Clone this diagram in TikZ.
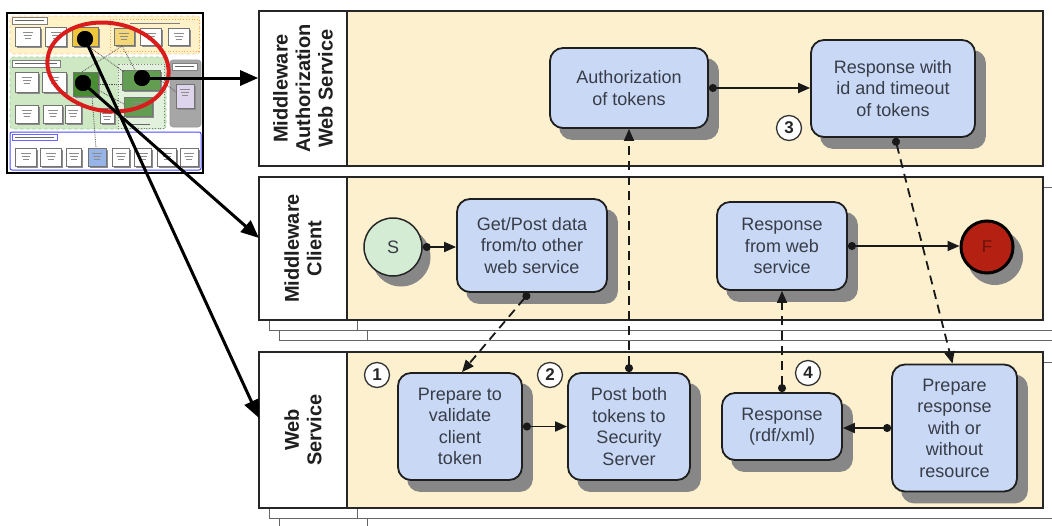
\documentclass[tikz,border=0pt]{standalone}
\usepackage{fontspec}
\setmainfont{Liberation Sans}
\usetikzlibrary{arrows.meta,calc}
\pgfdeclarelayer{bg}
\pgfdeclarelayer{sh}
\pgfsetlayers{bg,sh,main}
\definecolor{lanebg}{RGB}{253,240,206}
\definecolor{boxblue}{RGB}{201,217,245}
\definecolor{txt}{RGB}{55,60,72}
\definecolor{startg}{RGB}{212,235,212}
\definecolor{endr}{RGB}{180,32,18}
\definecolor{endtxt}{RGB}{105,18,8}
\definecolor{thyel}{RGB}{255,241,200}
\definecolor{thgold}{RGB}{238,198,60}
\definecolor{thgrn}{RGB}{206,232,196}
\definecolor{thdkg}{RGB}{72,140,52}
\definecolor{thblue}{RGB}{150,180,232}
\definecolor{thpur}{RGB}{222,212,236}
\definecolor{ellred}{RGB}{218,28,28}
\definecolor{shad}{RGB}{135,135,135}
\newcommand{\thumbbox}[5]{%
  \fill[black!45] ($(#1,#2)+(2,2)$) rectangle ($(#3,#4)+(2,2)$);
  \draw[draw=black!55, line width=0.5pt, fill=#5] (#1,#2) rectangle (#3,#4);
  \draw[black!45, line width=0.6pt] ($(#1,#2)!0.5!(#3,#2)+(-5,5)$) -- ++(10,0);
  \draw[black!45, line width=0.6pt] ($(#1,#2)!0.5!(#3,#2)+(-4,8)$) -- ++(8,0);
  \draw[black!45, line width=0.6pt] ($(#1,#2)!0.5!(#3,#2)+(-3,11)$) -- ++(6,0);}
\begin{document}
\begin{tikzpicture}[x=1pt,y=-1pt,
  lane/.style={draw=black!85, line width=1.6pt, fill=lanebg},
  lanecopy/.style={draw=black!60, line width=0.8pt, fill=white},
  labbox/.style={draw=black!85, line width=1.6pt, fill=white, inner sep=0pt},
  labtext/.style={rotate=90, align=center, font=\fontsize{20}{22.5}\selectfont\bfseries, text=black!88},
  task/.style={draw=black!88, line width=1.8pt, fill=boxblue, rounded corners=13pt, align=center,
    font=\fontsize{18}{21.5}\selectfont, text=txt, inner sep=2pt},
  num/.style={circle, draw=black!80, line width=1.3pt, fill=white, minimum size=25pt, inner sep=0pt,
    font=\fontsize{17}{17}\selectfont\bfseries, text=black!85},
  flow/.style={line width=1.8pt, draw=black!90, {Circle[length=8pt]}-{Triangle[length=12pt,width=10pt]}},
  msg/.style={flow, dash pattern=on 9pt off 6pt},
  big/.style={line width=3pt, draw=black, -{Triangle[length=18pt,width=15pt]}},
  dot/.style={circle, fill=black, minimum size=16pt, inner sep=0pt}]
\useasboundingbox (0,0) rectangle (1052,525);

\begin{pgfonlayer}{bg}
% ---------------- thumbnail ----------------
\draw[line width=2.5pt, fill=white] (7,13) rectangle (203,173);
\draw[draw=orange!40, dashed, line width=0.6pt, fill=thyel, rounded corners=3pt] (10,16) rectangle (200,54);
\draw[draw=black!50, line width=0.5pt, fill=white] (12,17) rectangle (47,24);
\draw[black!60, line width=0.8pt] (15,20.5) -- (44,20.5);
\draw[draw=orange!70, dotted, line width=0.8pt, fill=thyel] (110,19) rectangle (199,51);
\draw[black!50, line width=0.6pt] (130,23) -- (180,23);
\thumbbox{15}{27}{40}{46}{white}
\thumbbox{45}{27}{66}{46}{white}
\thumbbox{72}{27}{98}{46}{thgold}
\thumbbox{114}{28}{134}{45}{thgold!70}
\thumbbox{140}{28}{161}{45}{white}
\thumbbox{168}{28}{189}{45}{white}

\draw[draw=green!50!black!40, dashed, line width=0.6pt, fill=thgrn, rounded corners=3pt] (10,57) rectangle (166,129);
\draw[draw=black!50, line width=0.5pt, fill=white] (12,60) rectangle (60,67);
\draw[black!60, line width=0.8pt] (15,63.5) -- (57,63.5);
\draw[draw=black!50, dotted, line width=0.8pt, fill=thgrn!60] (118,64) rectangle (164,128);
\draw[black!60, line width=0.8pt] (130,124) -- (150,124);
\thumbbox{15}{72}{38}{92}{white}
\thumbbox{42}{72}{66}{92}{white}
\thumbbox{73}{72}{98}{96}{thdkg}
\thumbbox{122}{70}{160}{90}{thdkg!85}
\thumbbox{124}{97}{152}{116}{thdkg!85}
\thumbbox{15}{105}{38}{123}{white}
\thumbbox{43}{105}{62}{123}{white}
\thumbbox{65}{105}{81}{123}{white}
\thumbbox{100}{108}{114}{123}{white}

\draw[draw=black!40, line width=0.6pt, fill=black!35, rounded corners=3pt] (170,60) rectangle (201,127);
\draw[draw=black!50, line width=0.5pt, fill=white] (172,63) rectangle (197,70);
\draw[black!60, line width=0.8pt] (175,66.5) -- (194,66.5);
\thumbbox{176}{84}{194}{108}{thpur}

\draw[draw=blue!70, line width=1pt, fill=white, rounded corners=2pt] (10,132) rectangle (201,170);
\draw[draw=blue!60, line width=0.5pt, fill=white] (12,134) rectangle (57,140);
\draw[black!60, line width=0.8pt] (15,137) -- (54,137);
\thumbbox{15}{148}{36}{166}{white}
\thumbbox{40}{148}{61}{166}{white}
\thumbbox{66}{148}{81}{166}{white}
\thumbbox{88}{148}{106}{166}{thblue}
\thumbbox{112}{148}{129}{166}{white}
\thumbbox{134}{148}{151}{166}{white}
\thumbbox{157}{148}{176}{166}{white}
\thumbbox{180}{148}{198}{166}{white}

\draw[black!70, densely dotted, line width=0.8pt] (92,96) -- (96,148);
\draw[black!70, densely dotted, line width=0.8pt] (122,46) -- (82,72);
\draw[black!70, densely dotted, line width=0.8pt] (122,46) -- (135,70);
\draw[black!70, densely dotted, line width=0.8pt] (98,84) -- (122,84);
\draw[black!70, densely dotted, line width=0.8pt] (98,90) -- (124,104);
\draw[black!70, densely dotted, line width=0.8pt] (160,80) -- (176,92);
\draw[black!70, densely dotted, line width=0.8pt] (88,46) -- (124,72);

% ---------------- lanes ----------------
\draw[lane] (259,11) rectangle (1043,166);

\draw[lanecopy] (279,197) rectangle (1062,340);
\draw[lanecopy] (279,197) rectangle (367,340);
\draw[lanecopy] (269,187) rectangle (1052,330);
\draw[lanecopy] (269,187) rectangle (357,330);
\draw[lane] (259,177) rectangle (1043,320);

\draw[lanecopy] (279,372) rectangle (1062,528);
\draw[lanecopy] (279,372) rectangle (367,528);
\draw[lanecopy] (269,362) rectangle (1052,518);
\draw[lanecopy] (269,362) rectangle (357,518);
\draw[lane] (259,352) rectangle (1043,508);
\end{pgfonlayer}

\begin{scope}[shift={(108,67)}, rotate=-9]
  \draw[ellred, line width=4pt] (0,0) ellipse [x radius=61pt, y radius=44pt];
\end{scope}

\node[dot] (dA) at (85,39) {};
\node[dot] (dB) at (142,78) {};
\node[dot] (dC) at (83,83) {};

\node[labbox, minimum width=88pt, minimum height=155pt] (lab1) at (303,88.5) {};
\node[labtext] at (303,88.5) {Middleware\\Authorization\\Web Service};
\node[labbox, minimum width=88pt, minimum height=143pt] (lab2) at (303,248.5) {};
\node[labtext] at (303,248.5) {Middleware\\Client};
\node[labbox, minimum width=88pt, minimum height=156pt] (lab3) at (303,430) {};
\node[labtext] at (303,430) {Web\\Service};

% ---------------- tasks ----------------
\node[task, minimum width=158pt, minimum height=80pt] (auth) at (629,88) {Authorization\\of tokens};
\node[task, minimum width=164pt, minimum height=97pt] (resp3) at (893,88.5) {Response with\\id and timeout\\of tokens};

\node[circle, draw=black!85, line width=1.5pt, fill=startg, minimum size=58pt, inner sep=0pt,
  font=\fontsize{18}{18}\selectfont, text=txt] (S) at (393,247) {S};
\node[task, minimum width=150pt, minimum height=93pt] (getpost) at (532,245.5) {Get/Post data\\from/to other\\web service};
\node[task, minimum width=130pt, minimum height=88pt] (respweb) at (782,246) {Response\\from web\\service};
\node[circle, draw=black, line width=3pt, fill=endr, minimum size=52pt, inner sep=0pt,
  font=\fontsize{17}{17}\selectfont, text=endtxt] (F) at (987,247) {F};

\node[task, minimum width=124pt, minimum height=107pt] (prepval) at (460,426.5) {Prepare to\\validate\\client\\token};
\node[task, minimum width=122pt, minimum height=107pt] (postboth) at (629,426.5) {Post both\\tokens to\\Security\\Server};
\node[task, minimum width=120pt, minimum height=67pt] (resprdf) at (782,426.5) {Response\\(rdf/xml)};
\node[task, minimum width=125pt, minimum height=127pt] (prepresp) at (954.5,428) {Prepare\\response\\with or\\without\\resource};

% shadows
\begin{pgfonlayer}{sh}
\foreach \n in {auth,resp3,getpost,respweb,prepval,postboth,resprdf,prepresp}
  \fill[shad, rounded corners=13pt] ($(\n.south west)+(10,11)$) rectangle ($(\n.north east)+(10,11)$);
\fill[shad] ($(S.center)+(8,10)$) circle[radius=29.5pt];
\fill[shad] ($(F.center)+(8,10)$) circle[radius=28pt];
\end{pgfonlayer}

\node[num] (n1) at (377,375) {1};
\node[num] (n2) at (550,375) {2};
\node[num] (n3) at (789,128) {3};
\node[num] (n4) at (808,373) {4};

% ---------------- connectors ----------------
\draw[flow] (auth.east) -- (auth.east -| resp3.west);
\draw[flow] (S.east) -- (S.east -| getpost.west);
\draw[flow] (respweb.east) -- (respweb.east -| F.west);
\draw[flow] (prepval.east) -- (prepval.east -| postboth.west);
\draw[flow] (prepresp.west) -- (prepresp.west -| resprdf.east);

\draw[msg] ($(getpost.south)+(-3,0)$) -- ($(prepval.north)+(2,0)$);
\draw[msg] (postboth.north) -- (auth.south);
\draw[msg] ($(resp3.south)+(2,0)$) -- ($(prepresp.north)+(-2,0)$);
\draw[msg] (resprdf.north) -- (respweb.south);

% ---------------- thumbnail arrows ----------------
\coordinate (in2) at (259,238);
\coordinate (in3) at (259,418);
\draw[big] (dB.center) -- (dB.center -| lab1.west);
\draw[big] (dC.center) -- (in2);
\draw[big] (dA.center) -- (in3);
\node[dot] at (dA) {};
\node[dot] at (dB) {};
\node[dot] at (dC) {};
\end{tikzpicture}
\end{document}
